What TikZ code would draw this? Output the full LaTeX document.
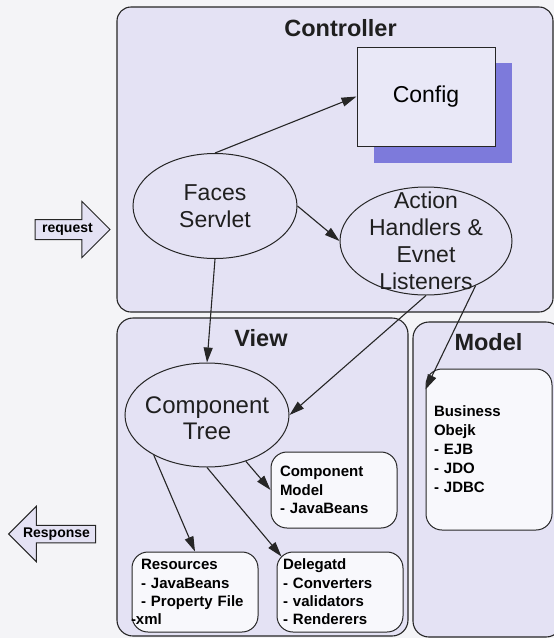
\documentclass[tikz,border=0pt]{standalone}
\usepackage{fontspec}
\setmainfont{Liberation Sans}
\usetikzlibrary{arrows.meta,shapes.geometric,shapes.arrows,positioning}
\definecolor{pagebg}{HTML}{F4F4F7}
\definecolor{lav}{HTML}{E4E2F4}
\definecolor{lavlight}{HTML}{E9E8F7}
\definecolor{shade}{HTML}{7D7ADB}
\definecolor{boxbg}{HTML}{F8F8FC}
\definecolor{ink}{HTML}{262626}
\tikzset{
  panel/.style={draw=ink, line width=1.1pt, fill=lav, rounded corners=14pt, inner sep=0pt},
  title/.style={font=\bfseries\fontsize{23.5}{27}\selectfont, text=black!88, anchor=base},
  oval/.style={ellipse, draw=ink, line width=1pt, fill=lav, inner sep=0pt},
  bigtxt/.style={font=\fontsize{23}{27}\selectfont, align=center, text=black!88},
  smallbox/.style={draw=ink, line width=1pt, fill=boxbg, rounded corners=16pt,
    align=left, font=\bfseries\fontsize{15}{18.3}\selectfont, inner ysep=0pt,
    minimum width=126pt},
  flowarrow/.style={single arrow, draw=ink, line width=1pt, fill=lav,
    font=\bfseries\fontsize{14}{16}\selectfont, inner xsep=0pt}
}
\begin{document}
\begin{tikzpicture}[x=1pt,y=-1pt]
	\fill[pagebg] (0,0) rectangle (554,638);
	\useasboundingbox (0,0) rectangle (554,638);

	% the three panels
	\node[panel, minimum width=436pt, minimum height=305pt] (ctrl) at (335,159.5) {};
	\node[panel, rounded corners=16pt, minimum width=291pt, minimum height=318pt] (view) at (262.5,477) {};
	\node[panel, rounded corners=16pt, minimum width=149pt, minimum height=315pt] (model) at (487.5,479.5) {};
	\node[title] (ctrltitle) at (340.5,36) {Controller};
	\node[title] (viewtitle) at (261,346) {View};
	\node[title] (modeltitle) at (488.5,350) {Model};

	% config with its shadow
	\node[fill=shade, inner sep=0pt, minimum width=138pt, minimum height=100pt] (cfgshadow) at (443,113) {};
	\node[draw=ink, line width=1pt, fill=lavlight, minimum width=138pt, minimum height=99pt,
		font=\fontsize{23}{27}\selectfont] (config) at (426,96.5) {Config};

	\node[oval, minimum width=164pt, minimum height=105pt,
		label={[bigtxt]center:{Faces\\Servlet}}] (faces) at (215,206) {};
	\node[oval, minimum width=172pt, minimum height=108pt,
		label={[bigtxt]center:{Action\\Handlers \&\\Evnet\\Listeners}}] (action) at (426,241) {};
	\node[oval, minimum width=164pt, minimum height=104pt,
		label={[bigtxt, font=\fontsize{24}{26}\selectfont, yshift=-3pt]center:{Component\\Tree}}] (tree) at (207,415) {};

	% boxes
	\node[smallbox, minimum height=161pt, text width=110pt, inner xsep=8pt,
		font=\bfseries\fontsize{15}{19}\selectfont] (business) at (489,449.5)
		{Business\\Obejk\\- EJB\\- JDO\\- JDBC};
	\node[smallbox, minimum height=76pt, text width=108pt, inner xsep=9pt] (cmodel) at (334,490)
		{Component\\Model\\- JavaBeans};
	\node[smallbox, minimum height=80pt, text width=108pt, inner xsep=9pt] (resources) at (195,592)
		{Resources\\- JavaBeans\\- Property File\\\hspace*{-10pt}-xml};
	\node[smallbox, minimum height=80pt, text width=114pt, inner xsep=6pt] (delegatd) at (340,592)
		{Delegatd\\- Converters\\- validators\\- Renderers};

	% request and response
	\node[flowarrow, minimum height=75pt, single arrow head extend=18pt,
		text height=9pt, text depth=3pt, inner ysep=3.5pt] (request) at (67.5,229.5) {request};
	\node[flowarrow, shape border rotate=180, minimum height=87pt, single arrow head extend=19pt,
		text height=10.5pt, text depth=3pt, inner ysep=1.5pt] (response) at (56.5,534) {Response};

	\begin{scope}[>={Triangle[length=15pt,width=9pt]}, every edge/.style={draw=ink, line width=1.1pt, ->}]
		\path (faces.north) edge (config.west);
		\path (faces.east) edge (action.west);
		\path (faces.south) edge (tree.north);
		\path (action.south) edge (tree.east);
		\path (action.-42) edge ([yshift=-21pt]business.north west);
		\path (tree.-50) edge (cmodel.west);
		\path (tree.-143) edge (resources.north);
		\path (tree.south) edge ([shift={(5pt,-5pt)}]delegatd.north west);
	\end{scope}
\end{tikzpicture}
\end{document}
